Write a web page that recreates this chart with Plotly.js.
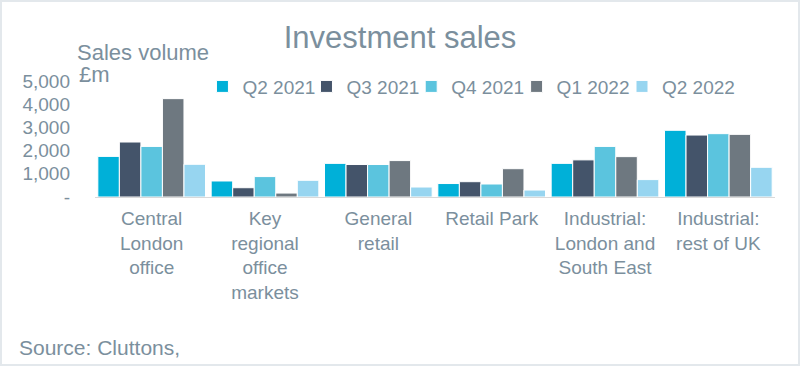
<!DOCTYPE html>
<html><head><meta charset="utf-8">
<script src="https://cdn.plot.ly/plotly-3.0.1.min.js"></script>
<style>
html,body{margin:0;padding:0;background:#fff;}
#wrap{width:796px;height:362px;border:2px solid #e3e8ec;position:relative;overflow:hidden;}
#chart{width:796px;height:362px;}
</style></head><body>
<div id="wrap"><div id="chart"></div></div>
<script>
const categories = ["Central<br>London<br>office","Key<br>regional<br>office<br>markets","General<br>retail","Retail Park","Industrial:<br>London and<br>South East","Industrial:<br>rest of UK"];
const seriesNames = ["Q2 2021","Q3 2021","Q4 2021","Q1 2022","Q2 2022"];
const q2_2021 = [1750, 690, 1450, 580, 1450, 2875];
const q3_2021 = [2370, 400, 1400, 660, 1600, 2670];
const q4_2021 = [2180, 880, 1400, 560, 2180, 2730];
const q1_2022 = [4240, 170, 1570, 1220, 1740, 2700];
const q2_2022 = [1410, 720, 430, 300, 750, 1280];
const yTickVals = [0,1000,2000,3000,4000,5000];
const yTickText = ["-","1,000","2,000","3,000","4,000","5,000"];

const seriesValues = [q2_2021,q3_2021,q4_2021,q1_2022,q2_2022];
const colors = ["#00b0d8","#44546a","#5bc4de","#6e7880","#97d5f0"];
const txt = "#7b8f9d";
const font = "Liberation Sans, Arial, sans-serif";
const legendIds = ["legend","legend2","legend3","legend4","legend5"];
const legendX = [0.158, 0.311, 0.465, 0.620, 0.775];

const data = seriesValues.map((v,i)=>({
  type:"bar", name:seriesNames[i], x:categories, y:v, legend:legendIds[i],
  marker:{color:colors[i], line:{color:"#ffffff", width:1}},
  hoverinfo:"y+name"
}));

const W=796, H=362;
const layout = {
  width:W, height:H,
  margin:{l:93, r:23, t:79, b:167},
  paper_bgcolor:"#fff", plot_bgcolor:"#fff",
  font:{family:font, color:txt, size:19},
  title:{text:"Investment sales", font:{size:31, color:txt, family:font}, x:0.5, xanchor:"center", y:1-35/H, yanchor:"middle"},
  barmode:"group", bargap:0.05, bargroupgap:0,
  showlegend:true,
  xaxis:{showgrid:false, zeroline:false, showline:true, linecolor:"#d9d9d9", linewidth:1, ticks:"", tickfont:{size:19, color:txt}, tickangle:0, ticklabelstandoff:4, fixedrange:true},
  yaxis:{range:[0,5000], tickvals:yTickVals, ticktext:yTickText, showgrid:false, zeroline:false, showline:false, tickfont:{size:19, color:txt}, ticklabelstandoff:24, fixedrange:true},
  annotations:[
    {text:"Sales volume", xref:"paper", yref:"paper", x:-20/680, y:(195-50)/116, xanchor:"left", yanchor:"middle", align:"left", showarrow:false, font:{size:22, color:txt, family:font}},
    {text:"£m", xref:"paper", yref:"paper", x:-18/680, y:(195-72)/116, xanchor:"left", yanchor:"middle", align:"left", showarrow:false, font:{size:22, color:txt, family:font}},
    {text:"Source: Cluttons,", xref:"paper", yref:"paper", x:-78/680, y:-(345-195)/116, xanchor:"left", yanchor:"middle", align:"left", showarrow:false, font:{size:21, color:txt, family:font}}
  ]
};
legendIds.forEach((id,i)=>{
  layout[id] = {orientation:"h", x:legendX[i], xanchor:"left", y:0.952, yanchor:"middle", font:{size:19, color:txt}, bgcolor:"rgba(0,0,0,0)"};
});
Plotly.newPlot("chart", data, layout, {displayModeBar:false, staticPlot:false});
</script>
</body></html>
